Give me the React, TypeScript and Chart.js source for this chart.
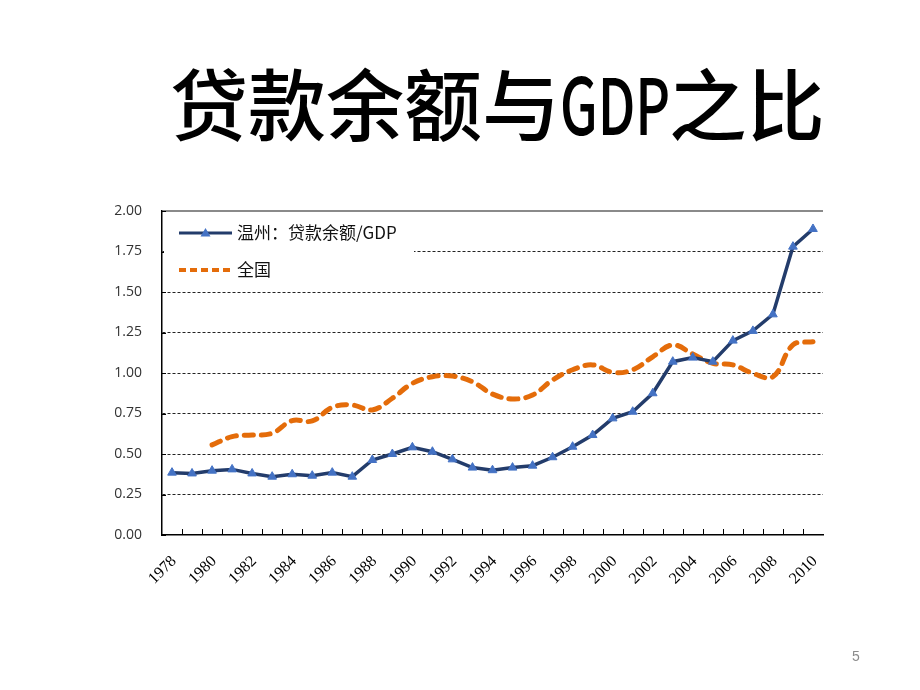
import React, { useEffect, useRef } from 'react';
import { Chart, registerables } from 'chart.js';

Chart.register(...registerables);

const TITLE_PARTS = ['贷款余额与', 'GDP', '之比'];
const PAGE_NUMBER = '5';
const SERIES_NAMES = ['温州：贷款余额/GDP', '全国'];

const years = [
  '1978', '1979', '1980', '1981', '1982', '1983', '1984', '1985', '1986', '1987', '1988',
  '1989', '1990', '1991', '1992', '1993', '1994', '1995', '1996', '1997', '1998', '1999',
  '2000', '2001', '2002', '2003', '2004', '2005', '2006', '2007', '2008', '2009', '2010',
];

const wenzhou = [
  0.385, 0.38, 0.397, 0.405, 0.38, 0.36, 0.375, 0.366, 0.385, 0.36, 0.463,
  0.5, 0.541, 0.514, 0.467, 0.416, 0.4, 0.416, 0.428, 0.48, 0.545, 0.617,
  0.72, 0.761, 0.875, 1.07, 1.095, 1.07, 1.2, 1.26, 1.362, 1.78, 1.889,
];

const national = [
  null, null, 0.556, 0.607, 0.617, 0.628, 0.706, 0.704, 0.788, 0.802, 0.772,
  0.844, 0.936, 0.977, 0.981, 0.946, 0.87, 0.84, 0.864, 0.957, 1.02, 1.05,
  1.004, 1.02, 1.1, 1.173, 1.117, 1.06, 1.05, 0.998, 0.977, 1.173, 1.193,
];

const Y_MIN = 0;
const Y_MAX = 2;
const Y_STEP = 0.25;

const NAVY = '#233C6B';
const MARKER = '#4472C4';
const ORANGE = '#E46C0A';

const decorPlugin = {
  id: 'decor',
  beforeDatasetsDraw(chart: any) {
    const { ctx, chartArea, scales } = chart;
    const { left, right, top, bottom } = chartArea;
    ctx.save();
    ctx.strokeStyle = '#000';
    ctx.lineWidth = 1;
    ctx.beginPath();
    scales.y.ticks.forEach((t: any) => {
      const y = Math.round(scales.y.getPixelForValue(t.value)) + 0.5;
      ctx.moveTo(left, y);
      ctx.lineTo(left + 4, y);
    });
    const n = scales.x.ticks.length;
    const step = (right - left) / n;
    for (let i = 1; i < n; i++) {
      const x = Math.round(left + i * step) + 0.5;
      ctx.moveTo(x, bottom);
      ctx.lineTo(x, bottom - 6);
    }
    ctx.stroke();

    const bx = left + 2;
    const by = top + 3;
    ctx.fillStyle = '#fff';
    ctx.fillRect(bx, by, 250, 72);

    const r1 = top + 22;
    const r2 = top + 59;
    const lx0 = left + 17;
    const lx1 = left + 70;
    ctx.lineCap = 'butt';
    ctx.strokeStyle = NAVY;
    ctx.lineWidth = 3;
    ctx.beginPath();
    ctx.moveTo(lx0, r1);
    ctx.lineTo(lx1, r1);
    ctx.stroke();
    const cx = (lx0 + lx1) / 2;
    ctx.fillStyle = MARKER;
    ctx.beginPath();
    ctx.moveTo(cx, r1 - 5);
    ctx.lineTo(cx + 5, r1 + 3.5);
    ctx.lineTo(cx - 5, r1 + 3.5);
    ctx.closePath();
    ctx.fill();

    ctx.strokeStyle = ORANGE;
    ctx.lineWidth = 4;
    ctx.setLineDash([7, 4]);
    ctx.beginPath();
    ctx.moveTo(lx0, r2);
    ctx.lineTo(lx1, r2);
    ctx.stroke();
    ctx.setLineDash([]);

    ctx.fillStyle = '#111';
    ctx.font = '17px "Noto Sans CJK SC", sans-serif';
    ctx.textBaseline = 'middle';
    ctx.textAlign = 'left';
    ctx.fillText(SERIES_NAMES[0], left + 75, r1);
    ctx.fillText(SERIES_NAMES[1], left + 75, r2);
    ctx.restore();
  },
};

export default function App() {
  const ref = useRef<HTMLCanvasElement>(null);

  useEffect(() => {
    if (!ref.current) return;
    const chart = new Chart(ref.current, {
      type: 'line',
      data: {
        labels: years,
        datasets: [
          {
            label: SERIES_NAMES[0],
            data: wenzhou,
            borderColor: NAVY,
            borderWidth: 3.5,
            pointStyle: 'triangle',
            pointRadius: 5,
            pointBackgroundColor: MARKER,
            pointBorderColor: MARKER,
            pointBorderWidth: 1,
            tension: 0,
            order: 1,
          },
          {
            label: SERIES_NAMES[1],
            data: national,
            borderColor: ORANGE,
            borderWidth: 5,
            borderDash: [9, 8],
            borderCapStyle: 'round',
            pointRadius: 0,
            tension: 0.4,
            spanGaps: false,
            order: 2,
          },
        ],
      },
      options: {
        animation: false,
        responsive: false,
        maintainAspectRatio: false,
        layout: { padding: { left: 0, right: 97, top: 211, bottom: 0 } },
        plugins: {
          legend: { display: false },
          title: { display: false },
          tooltip: { enabled: false },
        },
        scales: {
          x: {
            type: 'category',
            offset: true,
            afterFit: (s: any) => { s.height = 155; },
            grid: { display: true, offset: true, drawOnChartArea: false, drawTicks: false },
            border: { display: true, color: '#000', width: 1.5 },
            ticks: {
              autoSkip: false,
              maxRotation: 45,
              minRotation: 45,
              padding: 17,
              labelOffset: 2,
              color: '#000',
              font: { family: '"Liberation Serif", "Times New Roman", serif', size: 16 },
              callback: (_v: any, i: number) => (i % 2 === 0 ? years[i] : ''),
            },
          },
          y: {
            min: Y_MIN,
            max: Y_MAX,
            afterFit: (s: any) => { s.width = 162; },
            grid: {
              drawTicks: false,
              color: (c: any) => (c.tick && c.tick.value === Y_MAX ? '#8a8a8a' : c.tick && c.tick.value === Y_MIN ? 'rgba(0,0,0,0)' : '#222'),
              lineWidth: (c: any) => (c.tick && c.tick.value === Y_MAX ? 2 : 1),
            },
            border: {
              display: true,
              color: '#000',
              width: 1.5,
              dash: (c: any) => (c.tick && c.tick.value === Y_MAX ? [] : [3, 2]),
            },
            ticks: {
              stepSize: Y_STEP,
              padding: 20,
              color: '#333',
              font: { family: '"Open Sans", "Noto Sans", sans-serif', size: 14 },
              callback: (v: any) => Number(v).toFixed(2),
            },
          },
        },
      },
      plugins: [decorPlugin],
    });
    return () => chart.destroy();
  }, []);

  return (
    <div style={{ position: 'absolute', left: 0, top: 0, width: 920, height: 690, background: '#fff', overflow: 'hidden' }}>
      <canvas ref={ref} width={920} height={690} style={{ position: 'absolute', left: 0, top: 0, width: 920, height: 690 }} />
      <div
        style={{
          position: 'absolute',
          left: 170,
          top: 62,
          fontFamily: '"Noto Sans CJK SC", sans-serif',
          fontSize: 78,
          lineHeight: '78px',
          fontWeight: 500,
          color: '#000',
          whiteSpace: 'nowrap',
        }}
      >
        {TITLE_PARTS[0]}
        <span
          style={{
            display: 'inline-block',
            transform: 'scaleX(0.69)',
            transformOrigin: 'left center',
            marginRight: -51,
          }}
        >
          {TITLE_PARTS[1]}
        </span>
        {TITLE_PARTS[2]}
      </div>
      <div
        style={{
          position: 'absolute',
          left: 852,
          top: 648,
          fontFamily: '"Liberation Sans", sans-serif',
          fontSize: 14,
          color: '#8c8c8c',
        }}
      >
        {PAGE_NUMBER}
      </div>
    </div>
  );
}
